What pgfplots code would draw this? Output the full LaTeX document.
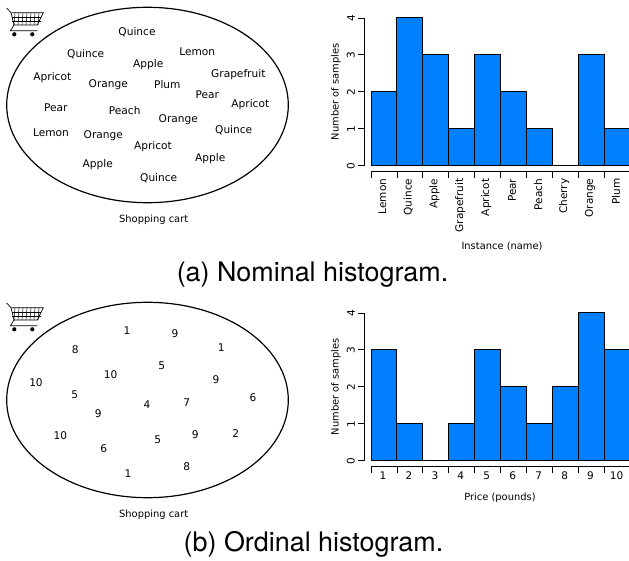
\documentclass[border=0pt]{standalone}
\usepackage{pgfplots}
\usepackage{fontspec}
\setmainfont{DejaVu Sans}
\newfontfamily\capfont{TeX Gyre Heros}
\pgfplotsset{compat=1.18}
\definecolor{barblue}{HTML}{0080FF}

% histogram axes, 1 unit = 1 reference pixel
\pgfplotsset{histo/.style={
    scale only axis, width=259.5pt, height=147.7pt,
    xmin=0, xmax=10, ymin=0, ymax=4,
    axis x line*=bottom, axis y line*=left,
    separate axis lines,
    axis x line shift=6pt, axis y line shift=6.7pt,
    axis line style={-, black, line width=1.1pt},
    tick align=outside, major tick length=6pt,
    tick style={black, line width=0.9pt},
    xtick={0,...,10}, x tick label as interval,
    ytick={0,1,2,3,4}, yticklabels={0,1,2,3,4},
    tick label style={font=\fontsize{10.5}{11}\selectfont},
    label style={font=\fontsize{9.9}{11}\selectfont},
    yticklabel style={rotate=90, anchor=south},
    ylabel={Number of samples},
    ylabel style={at={(axis description cs:-0.135,0.5)}, anchor=center},
    clip=false,
}}
\pgfplotsset{barplot/.style={ybar interval, fill=barblue, draw=black, line width=1pt}}
\pgfplotsset{words/.style={
    only marks, mark=none, nodes near coords, point meta=explicit symbolic,
    every node near coord/.append style={anchor=center, inner sep=0pt, yshift=-0.7pt, font=\fontsize{10.6}{11}\selectfont},
}}

\newcommand{\cart}[1]{%
  \begin{scope}[shift={(0,561-#1)}, yscale=-1, line width=0.7pt, black]
    \draw (6.7,8) -- (11,12.7) -- (14,25) (14,25) -- (10.5,30.7) -- (37.3,30.7);
    \draw (11.3,12.7) -- (43.3,12.7) -- (37.3,25) -- (13,25);
    \foreach \y in {16.8,20.9} \draw[line width=0.5pt] (12,\y) -- (41,\y);
    \foreach \x in {15,19,23,27,31,35,39} \draw[line width=0.5pt] (\x,12.7) -- (\x-1,25);
    \fill (14.3,34.3) circle (2.1);
    \fill (32.3,34.3) circle (2.1);
  \end{scope}}

\begin{document}
\begin{tikzpicture}[x=1pt,y=1pt]
\path[use as bounding box] (0,0) rectangle (629,561);

\begin{axis}[at={(0pt,0pt)}, anchor=south west, scale only axis, width=629pt, height=561pt,
    xmin=0, xmax=629, ymin=0, ymax=561, y dir=reverse, hide axis, clip=false]
\addplot[words] table[meta=label] {
x y label
137 31 Quince
85.7 53 Quince
197.3 51 Lemon
148.3 64 Apple
238.3 74 Grapefruit
52.3 77 Apricot
108.3 84 Orange
167.3 84 Plum
207.3 94 Pear
250.3 104 Apricot
55.7 107 Pear
124.7 110 Peach
178.3 119 Orange
233.7 129 Quince
51 132 Lemon
103.3 135 Orange
153 146 Apricot
210.3 158 Apple
97.7 164 Apple
158.7 177 Quince
};
\addplot[words] table[meta=label] {
x y label
127 330 1
175 333.3 9
221.3 347 1
75.3 349.3 8
161.7 365.3 5
110.7 374.3 10
216 379.3 9
36 382.3 10
74.7 394.3 5
253 397.3 6
186.7 402.3 7
147 404.3 4
98.3 413 9
60.3 435.3 10
195.3 434.3 9
235.7 433.3 2
157.7 439.3 5
103.7 448.3 6
186.7 466.3 8
128 473.3 1
};
\draw[line width=1.2pt] (axis cs:147.5,105) ellipse [x radius=140.8, y radius=97.7];
\draw[line width=1.2pt] (axis cs:147.5,400) ellipse [x radius=140.8, y radius=97.7];
\node[font=\fontsize{9.9}{11}\selectfont] at (axis cs:153.7,219.3) {Shopping cart};
\node[font=\fontsize{9.9}{11}\selectfont] at (axis cs:153.7,514.6) {Shopping cart};
\node[font=\capfont\fontsize{26.9}{28}\selectfont] at (axis cs:312.5,275) {(a) Nominal histogram.};
\node[font=\capfont\fontsize{26.9}{28}\selectfont] at (axis cs:313.5,544) {(b) Ordinal histogram.};
\end{axis}

\cart{0}
\cart{295}

\begin{axis}[histo, at={(371pt,395.3pt)}, anchor=south west,
    xticklabels={Lemon,Quince,Apple,Grapefruit,Apricot,Pear,Peach,Cherry,Orange,Plum},
    xticklabel style={rotate=90, anchor=east, xshift=2.5pt, yshift=1.5pt},
    xlabel={Instance (name)},
    xlabel style={at={(axis description cs:0.505,-0.5416)}, anchor=center, yshift=-1pt}]
\addplot[barplot] coordinates {
(0,2) (1,4) (2,3) (3,1) (4,3) (5,2) (6,1) (7,0) (8,3) (9,1) (10,1)
};
\end{axis}

\begin{axis}[histo, at={(371pt,100.3pt)}, anchor=south west,
    xticklabels={1,2,3,4,5,6,7,8,9,10},
    xticklabel style={yshift=4.5pt, xshift=-1pt},
    xlabel={Price (pounds)},
    xlabel style={at={(axis description cs:0.497,-0.2437)}, anchor=center, yshift=-1pt}]
\addplot[barplot] coordinates {
(0,3) (1,1) (2,0) (3,1) (4,3) (5,2) (6,1) (7,2) (8,4) (9,3) (10,3)
};
\end{axis}
\end{tikzpicture}
\end{document}
